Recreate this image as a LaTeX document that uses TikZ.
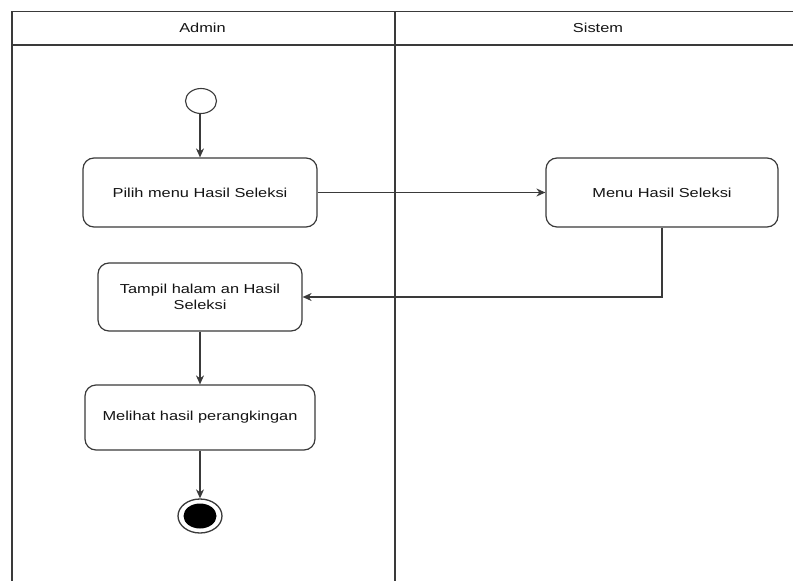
\documentclass[tikz,border=0pt]{standalone}
\usepackage{fontspec}
\setmainfont{Liberation Sans}[FakeStretch=1.26]
\usetikzlibrary{arrows.meta,shapes.geometric}
\definecolor{edge}{HTML}{3A3A3A}
\definecolor{ink}{HTML}{141414}
\begin{document}
\begin{tikzpicture}[x=1pt,y=-1pt,
  lane/.style={draw=edge,line width=1.3pt},
  action/.style={draw=edge,line width=1.2pt,rounded corners=11pt,fill=white,
    text=ink,font=\fontsize{13}{16}\selectfont,align=center,inner sep=0pt},
  flow/.style={draw=edge,line width=1.2pt,-{Stealth[length=9pt,width=8pt]}},
  header/.style={text=ink,font=\fontsize{13}{16}\selectfont,inner sep=0pt}]
\useasboundingbox (0,0) rectangle (793,581);
% swimlane frame
\draw[lane] (12,581) -- (12,11.5) -- (793,11.5);
\draw[lane] (12,45) -- (793,45);
\draw[lane] (395,11.5) -- (395,581);
\node[header] (admin) at (202.5,28) {Admin};
\node[header] (sistem) at (598,28) {Sistem};
% start and end states
\node[draw=edge,line width=1.1pt,ellipse,minimum width=31pt,minimum height=25pt,inner sep=0pt] (start) at (201,101) {};
\node[draw=edge,line width=1.3pt,ellipse,minimum width=44pt,minimum height=34pt,inner sep=0pt] (stop) at (200,516) {};
\fill[black] (stop.center) ellipse [x radius=16.5pt,y radius=12.5pt];
% actions
\node[action,minimum width=234pt,minimum height=69pt] (pilih) at (200,192.5) {Pilih menu Hasil Seleksi};
\node[action,minimum width=232pt,minimum height=69pt] (menu) at (662,192.5) {Menu Hasil Seleksi};
\node[action,minimum width=204pt,minimum height=68pt] (tampil) at (200,297) {Tampil halam an Hasil\\Seleksi};
\node[action,minimum width=230pt,minimum height=65pt] (lihat) at (200,417.5) {Melihat hasil perangkingan};
% flows
\draw[flow] (start.south -| pilih.north) -- (pilih.north);
\draw[flow] (pilih.east) -- (menu.west);
\draw[flow] (menu.south) |- (tampil.east);
\draw[flow] (tampil.south) -- (lihat.north);
\draw[flow] (lihat.south) -- (stop.north);
\end{tikzpicture}
\end{document}
